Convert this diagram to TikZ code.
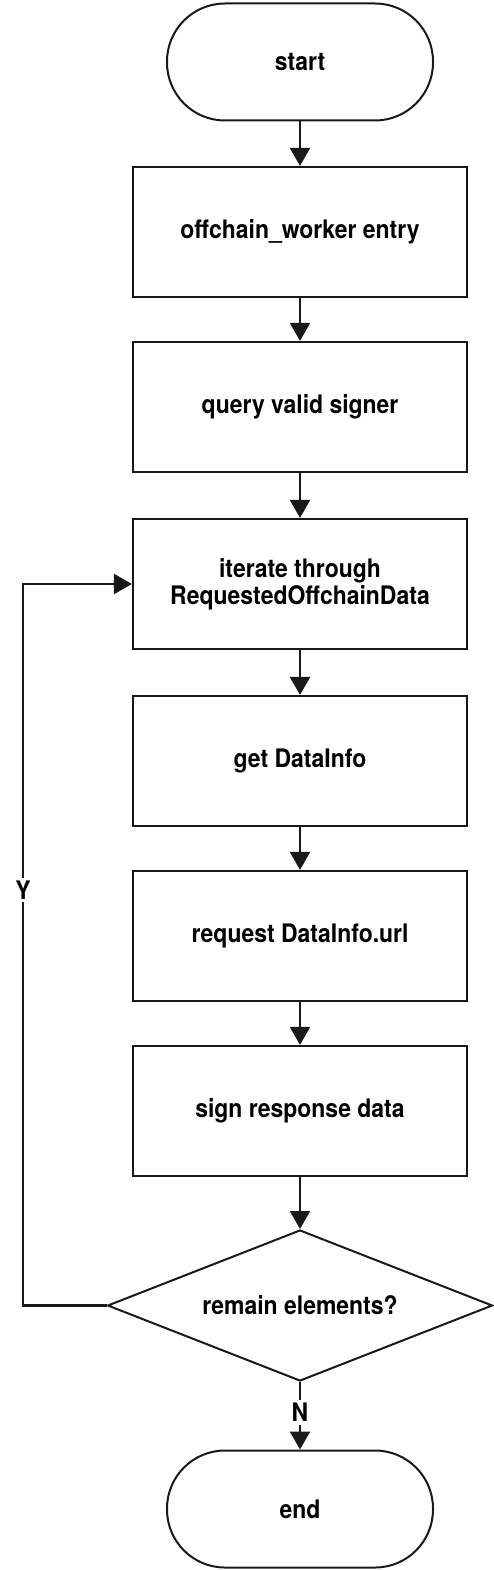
\documentclass[tikz,border=0pt]{standalone}
\usepackage{fontspec}
\setmainfont{TeX Gyre Heros}[FakeStretch=0.9]
\usetikzlibrary{arrows.meta,shapes.geometric}
\begin{document}
\begin{tikzpicture}[x=1pt,y=-1pt,
  every node/.style={font=\fontsize{25.5}{27}\selectfont\bfseries, align=center},
  conn/.style={line width=2.2pt, draw=black!90, -{Triangle[length=18pt,width=20pt]}},
  termbox/.style={draw=black!90, line width=2pt, rectangle, rounded corners=58pt, minimum width=266pt, minimum height=117pt, inner sep=0pt},
  procbox/.style={draw=black!90, line width=2.2pt, rectangle, minimum width=334pt, minimum height=130pt, inner sep=0pt},
  decbox/.style={draw=black!90, line width=2pt, diamond, aspect=2.55, minimum width=385pt, minimum height=151pt, inner sep=0pt},
  lbl/.style={fill=white, inner sep=3pt}
]
\useasboundingbox (0,0) rectangle (494,1570);
\node[termbox] (start) at (300,62) {start};
\node[procbox] (b1) at (300,232) {offchain\_worker entry};
\node[procbox] (b2) at (300,407) {query valid signer};
\node[procbox] (b3) at (300,584) {iterate through\\RequestedOffchainData};
\node[procbox] (b4) at (300,761) {get DataInfo};
\node[procbox] (b5) at (300,936) {request DataInfo.url};
\node[procbox] (b6) at (300,1111) {sign response data};
\node[decbox] (d) at (300,1305.5) {remain elements?};
\node[termbox] (end) at (300,1509) {end};
\coordinate (lb) at (23,1305.5);
\coordinate (lt) at (23,584);
\draw[conn] (start) -- (b1);
\draw[conn] (b1) -- (b2);
\draw[conn] (b2) -- (b3);
\draw[conn] (b3) -- (b4);
\draw[conn] (b4) -- (b5);
\draw[conn] (b5) -- (b6);
\draw[conn] (b6) -- (d);
\draw[conn] (d.south) -- node[lbl, pos=0.45] (n) {N} (end.north);
\draw[conn] (d.west) -- (lb) -- node[lbl, pos=0.576] (y) {Y} (lt) -- (b3.west);
\end{tikzpicture}
\end{document}
